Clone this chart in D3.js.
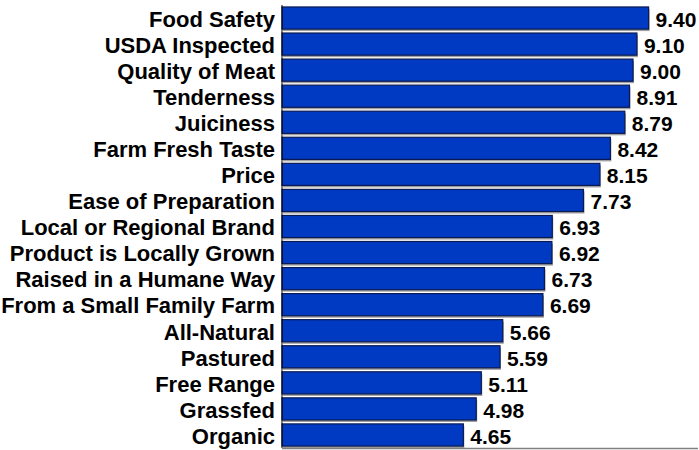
<!DOCTYPE html>
<html><head><meta charset="utf-8">
<script src="https://cdn.jsdelivr.net/npm/d3@7"></script>
<style>body{margin:0;background:#fff}svg{display:block}</style>
</head><body>
<svg id="c" width="699" height="450"></svg>
<script>
const categories = ["Food Safety","USDA Inspected","Quality of Meat","Tenderness","Juiciness","Farm Fresh Taste","Price","Ease of Preparation","Local or Regional Brand","Product is Locally Grown","Raised in a Humane Way","From a Small Family Farm","All-Natural","Pastured","Free Range","Grassfed","Organic"];
const values = [9.40,9.10,9.00,8.91,8.79,8.42,8.15,7.73,6.93,6.92,6.73,6.69,5.66,5.59,5.11,4.98,4.65];

(function(){
const svg = d3.select("#c");
const mLeft = 282, mTop = 5, mBottom = 448;
const font = "Liberation Sans, Arial, sans-serif";
const x = d3.scaleLinear().domain([0,10]).range([mLeft, mLeft+390]);
const y = d3.scaleBand().domain(categories).range([mTop, mBottom]).paddingInner(0.15).paddingOuter(0.075);

const g = svg.append("g");
g.selectAll("rect.sh").data(categories).join("rect").attr("class","sh")
  .attr("x", x(0)+1).attr("y", d=>y(d)+2)
  .attr("width", (d,i)=>x(values[i])-x(0)).attr("height", y.bandwidth())
  .attr("fill","#a0a0a0");
g.selectAll("rect.bar").data(categories).join("rect").attr("class","bar")
  .attr("x", x(0)).attr("y", d=>y(d))
  .attr("width", (d,i)=>x(values[i])-x(0)).attr("height", y.bandwidth())
  .attr("fill","#0039c2").attr("stroke","#0b1b52").attr("stroke-width",1.2);

g.selectAll("text.v").data(categories).join("text").attr("class","v")
  .attr("x",(d,i)=>x(values[i])+7).attr("y",d=>y(d)+y.bandwidth()/2)
  .attr("dy","0.42em")
  .attr("font-family",font).attr("font-weight","bold").attr("font-size","21px")
  .attr("fill","#000")
  .text((d,i)=>values[i].toFixed(2));

const yAxis = d3.axisLeft(y).tickSize(0).tickPadding(7);
const ya = svg.append("g").attr("transform",`translate(${mLeft},0)`).call(yAxis);
ya.select(".domain").remove();
ya.selectAll("text").attr("dy","0.4em").attr("font-family",font).attr("font-weight","bold").attr("font-size","22px").attr("fill","#000");
svg.append("line").attr("x1",mLeft).attr("x2",mLeft).attr("y1",mTop).attr("y2",mBottom).attr("stroke","#000").attr("stroke-width",1);
svg.append("line").attr("x1",mLeft).attr("x2",698).attr("y1",mBottom+0.5).attr("y2",mBottom+0.5).attr("stroke","#808080").attr("stroke-width",1.5);
})();
</script>
</body></html>
